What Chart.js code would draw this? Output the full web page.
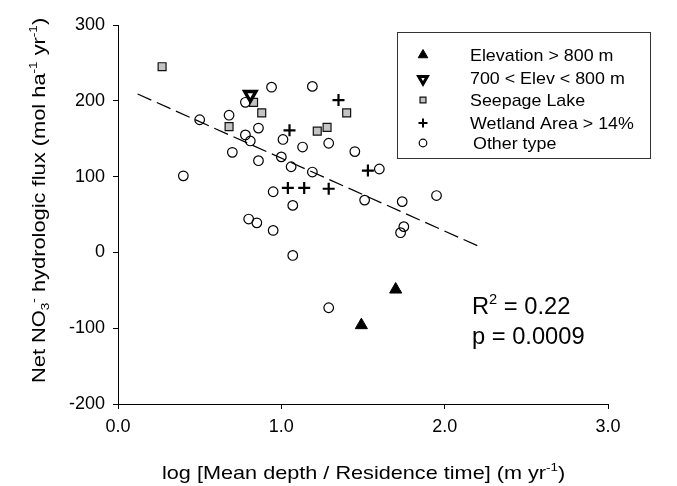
<!DOCTYPE html>
<html>
<head>
<meta charset="utf-8">
<script src="https://cdn.jsdelivr.net/npm/chart.js@4/dist/chart.umd.min.js"></script>
<style>
  html, body { margin: 0; padding: 0; background: #fff; }
  #wrap { width: 677px; height: 486px; position: relative; }
</style>
</head>
<body>
<div id="wrap"><canvas id="c" width="677" height="486"></canvas></div>
<script>
// ---- data ----
const elevHighX = [1.49, 1.70];
const elevHighY = [-96, -49];

const elevMidX = [0.81];
const elevMidY = [208];

const seepageX = [0.27, 0.68, 0.83, 0.88, 1.22, 1.28, 1.40];
const seepageY = [245, 166, 198, 184, 160, 165, 184];

const wetlandX = [1.05, 1.35, 1.53, 1.04, 1.14, 1.29];
const wetlandY = [161, 201, 108, 85, 85, 84];

const otherX = [0.40, 0.50, 0.68, 0.78, 0.86, 0.78, 0.81, 0.70, 0.86, 0.94, 1.19, 1.01, 1.13, 1.29, 1.45, 1.00,
                1.06, 1.19, 1.60, 0.95, 1.07, 1.51, 0.80, 0.85, 0.95, 1.74, 1.75, 1.73, 1.95, 1.07, 1.29];
const otherY = [101, 175, 181, 198, 164, 155, 147, 132, 121, 218, 219, 149, 139, 144, 133, 126,
                113, 106, 110, 80, 62, 69, 44, 39, 29, 67, 34, 26, 75, -4, -73];

const fitX = [0.12, 2.23];
const fitY = [209, 6];

const seriesNames = ["Elevation > 800 m", "700 < Elev < 800 m", "Seepage Lake", "Wetland Area > 14%", "Other type"];
const xTicks = [0, 1, 2, 3];
const yTicks = [-200, -100, 0, 100, 200, 300];
const statR2 = "0.22";
const statP = "0.0009";

const pts = (xs, ys) => xs.map((x, i) => ({ x: x, y: ys[i] }));

const FONT = "'Liberation Sans', Arial, Helvetica, sans-serif";

// ---- rich text helper (super/subscripts), optional horizontal stretch ----
function drawRich(ctx, parts, x, y, size, stretch) {
  stretch = stretch || 1;
  ctx.save();
  ctx.translate(x, y);
  ctx.scale(stretch, 1);
  let cx = 0;
  for (const p of parts) {
    let fs = size, dy = 0;
    if (p.s === 'sup') { fs = size * 0.62; dy = -size * 0.42; }
    if (p.s === 'sub') { fs = size * 0.62; dy = size * 0.22; }
    ctx.font = fs + "px " + FONT;
    ctx.fillText(p.t, cx, dy);
    cx += ctx.measureText(p.t).width;
  }
  ctx.restore();
  return cx * stretch;
}

const decor = {
  id: 'decor',
  afterDraw(chart) {
    const ctx = chart.ctx;
    ctx.save();
    ctx.fillStyle = '#000';
    ctx.textBaseline = 'alphabetic';
    ctx.textAlign = 'left';

    // x axis title
    drawRich(ctx, [
      { t: "log [Mean depth / Residence time] (m yr" }, { t: "-1", s: 'sup' }, { t: ")" }
    ], 162, 479, 19, 1.14);

    // y axis title
    ctx.save();
    ctx.translate(45, 383);
    ctx.rotate(-Math.PI / 2);
    drawRich(ctx, [
      { t: "Net NO" }, { t: "3", s: 'sub' }, { t: "-", s: 'sup' }, { t: " hydrologic flux (mol ha" },
      { t: "-1", s: 'sup' }, { t: " yr" }, { t: "-1", s: 'sup' }, { t: ")" }
    ], 0, 0, 19, 1.15);
    ctx.restore();

    // stats
    drawRich(ctx, [{ t: "R" }, { t: "2", s: 'sup' }, { t: " = " + statR2 }], 472, 314, 23, 1.03);
    drawRich(ctx, [{ t: "p = " + statP }], 472, 344, 23, 1.03);

    // legend
    ctx.strokeStyle = '#333';
    ctx.lineWidth = 1;
    ctx.strokeRect(397.5, 32.5, 253, 126);
    const rows = [55, 78, 100, 123, 143];
    const textX = [470, 470, 470, 470, 473];
    const sx = 423;
    const styles = chart.data.datasets.slice(0, 5);
    const legR = [5.5, 5, 4.2, 4.5, 3.8];
    const legBW = [1, 3, 1.2, 2, 1.2];
    ctx.textBaseline = 'middle';
    for (let i = 0; i < 5; i++) {
      const ds = styles[i];
      ctx.fillStyle = ds.backgroundColor;
      ctx.strokeStyle = ds.borderColor;
      ctx.lineWidth = legBW[i];
      Chart.helpers.drawPoint(ctx, {
        pointStyle: ds.pointStyle, radius: legR[i], rotation: ds.rotation || 0, borderWidth: legBW[i]
      }, sx, rows[i] + (i === 1 ? 1 : 0));
      ctx.fillStyle = '#000';
      drawRich(ctx, [{ t: seriesNames[i] }], textX[i], rows[i] + 1, 17, 1.05);
    }
    ctx.restore();
  }
};

new Chart(document.getElementById('c'), {
  type: 'scatter',
  data: {
    datasets: [
      { label: seriesNames[0], data: pts(elevHighX, elevHighY), pointStyle: 'triangle', pointRadius: 7,
        backgroundColor: '#000', borderColor: '#000', borderWidth: 1 },
      { label: seriesNames[1], data: pts(elevMidX, elevMidY), pointStyle: 'triangle', rotation: 180, pointRadius: 6.5,
        backgroundColor: '#fff', borderColor: '#000', borderWidth: 3.4 },
      { label: seriesNames[2], data: pts(seepageX, seepageY), pointStyle: 'rect', pointRadius: 5.6,
        backgroundColor: '#c4c4c4', borderColor: '#111', borderWidth: 1.2 },
      { label: seriesNames[3], data: pts(wetlandX, wetlandY), pointStyle: 'cross', pointRadius: 6,
        backgroundColor: '#000', borderColor: '#000', borderWidth: 2.2 },
      { label: seriesNames[4], data: pts(otherX, otherY), pointStyle: 'circle', pointRadius: 4.8,
        backgroundColor: 'rgba(255,255,255,0)', borderColor: '#000', borderWidth: 1.2 },
      { label: 'fit', data: pts(fitX, fitY), showLine: true, pointRadius: 0, borderColor: '#000',
        borderWidth: 1.2, borderDash: [15, 6], backgroundColor: '#000' }
    ]
  },
  options: {
    responsive: false,
    animation: false,
    events: [],
    layout: { padding: { left: 0, right: 69, top: 25, bottom: 0 } },
    plugins: { legend: { display: false }, tooltip: { enabled: false } },
    scales: {
      x: {
        type: 'linear', min: 0, max: 3,
        afterBuildTicks: (s) => { s.ticks = xTicks.map(v => ({ value: v })); },
        afterFit: (s) => { s.height = 82; },
        grid: { display: true, drawOnChartArea: false, drawTicks: true, tickLength: 5, color: '#000' },
        border: { display: true, color: '#000', width: 1 },
        ticks: { color: '#000', padding: 7, font: { family: FONT, size: 18 }, callback: (v) => Number(v).toFixed(1) }
      },
      y: {
        type: 'linear', min: -200, max: 300,
        afterBuildTicks: (s) => { s.ticks = yTicks.map(v => ({ value: v })); },
        afterFit: (s) => { s.width = 118; },
        grid: { display: true, drawOnChartArea: false, drawTicks: true, tickLength: 5, color: '#000' },
        border: { display: true, color: '#000', width: 1 },
        ticks: { color: '#000', padding: 8, font: { family: FONT, size: 18 } }
      }
    }
  },
  plugins: [decor]
});
</script>
</body>
</html>
